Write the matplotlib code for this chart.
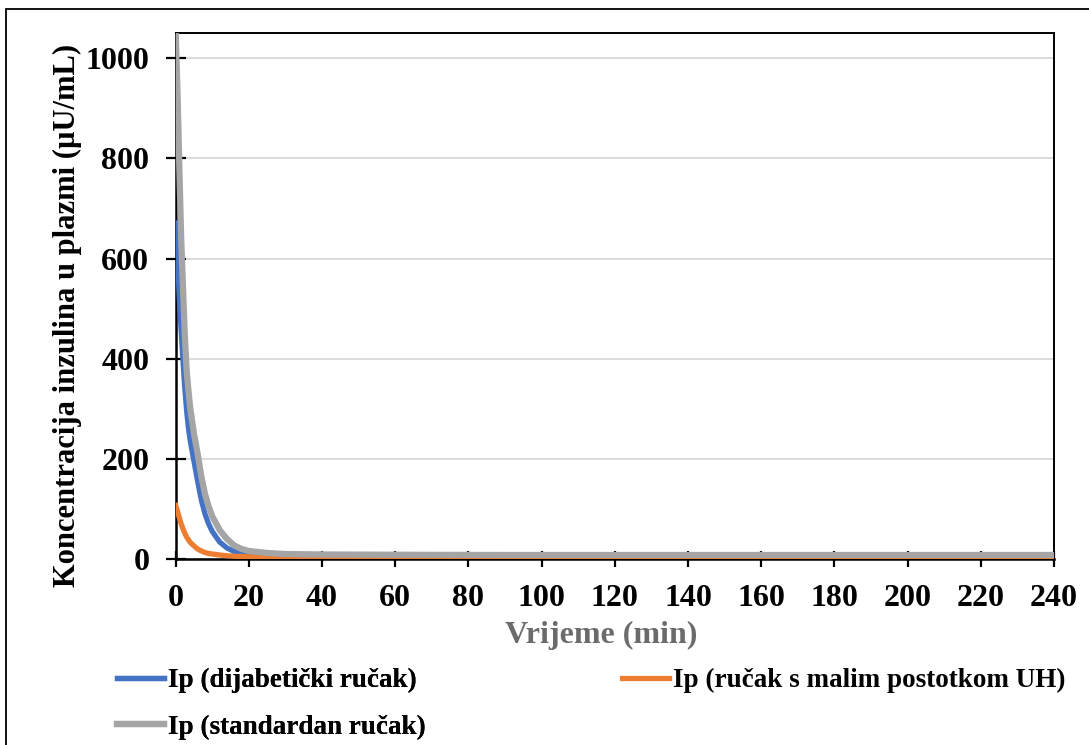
import matplotlib
matplotlib.use("Agg")
import matplotlib.pyplot as plt
from matplotlib.lines import Line2D
from matplotlib.patches import Rectangle

# ---- data ----
time_min = [0, 0.5, 1, 1.5, 2, 2.5, 3, 3.5, 4, 5, 6, 7, 8, 9, 10, 12, 14, 16,
            18, 20, 25, 30, 40, 60, 90, 120, 150, 180, 210, 240]
ip_dijabeticki = [671, 600, 520, 455, 395, 340, 295, 260, 235, 195, 155, 118, 90,
                  70, 55, 34, 22, 15, 12, 10.5, 9, 8.5, 8, 7.5, 7.5, 7.5, 7.5,
                  7.5, 7.5, 7.5]
ip_mali_uh = [107, 95, 82, 70, 60, 51, 44, 38, 33, 26, 20, 16, 13, 11, 10, 8,
              6.5, 5.5, 5, 4.5, 4, 3.5, 3, 3, 3, 3, 3, 3, 3, 3]
ip_standardan = [1050, 930, 780, 640, 540, 445, 375, 335, 300, 250, 210, 165, 130,
                 105, 85, 58, 40, 27, 20, 16, 12, 10, 9, 8.5, 8, 8, 8, 8, 8, 8]

series_labels = ["Ip (dijabetički ručak)", "Ip (ručak s malim postotkom UH)",
                 "Ip (standardan ručak)"]
x_ticks = list(range(0, 241, 20))
y_ticks = [0, 200, 400, 600, 800, 1000]

c_blue = "#4472C4"
c_orange = "#ED7D31"
c_gray = "#A5A5A5"

plt.rcParams["font.family"] = ["Liberation Serif", "DejaVu Serif"]
plt.rcParams["font.weight"] = "bold"

W, H = 1089, 745
fig = plt.figure(figsize=(W / 100, H / 100), dpi=100)
ax = fig.add_axes([175.7 / W, 1 - 559 / H, (1054 - 175.7) / W, (559 - 33.3) / H])

ax.plot(time_min, ip_dijabeticki, color=c_blue, lw=3.8, zorder=3)
ax.plot(time_min, ip_mali_uh, color=c_orange, lw=3.8, zorder=3)
ax.plot(time_min, ip_standardan, color=c_gray, lw=4.5, zorder=3)

ax.set_xlim(0, 240)
ax.set_ylim(0, 1050)
ax.set_xticks(x_ticks)
ax.set_yticks(y_ticks)
ax.set_xticklabels([str(v) for v in x_ticks], fontsize=23, fontweight="bold")
ax.set_yticklabels([str(v) for v in y_ticks], fontsize=23, fontweight="bold")
ax.tick_params(axis="y", direction="inout", length=14, width=1.6, pad=12)
ax.tick_params(axis="x", direction="inout", length=12, width=1.6, pad=12)

ax.grid(axis="y", color="#D9D9D9", lw=1.3, zorder=0)
ax.set_axisbelow(True)
for s in ["left", "bottom"]:
    ax.spines[s].set_linewidth(1.8)
    ax.spines[s].set_color("black")
for s in ["top", "right"]:
    ax.spines[s].set_linewidth(1.4)
    ax.spines[s].set_color("black")

fig.text(601 / W, 1 - 635 / H, "Vrijeme (min)", ha="center", va="center",
         fontsize=23, fontweight="bold", color="#6B6B6B")
fig.text(67 / W, 1 - 315 / H, "Koncentracija inzulina u plazmi (µU/mL)",
         ha="center", va="center", rotation=90, fontsize=22, fontweight="bold")

# legend
h_blue = Line2D([], [], color=c_blue, lw=3.8)
h_orange = Line2D([], [], color=c_orange, lw=3.8)
h_gray = Line2D([], [], color=c_gray, lw=4.5)
leg_kw = dict(loc="upper left", frameon=False, handlelength=1.75,
              handletextpad=0.12, borderpad=0, borderaxespad=0, labelspacing=0.8,
              prop={"weight": "bold", "size": 19.5})
leg1 = fig.legend([h_blue, h_gray], [series_labels[0], series_labels[2]],
                  bbox_to_anchor=(117 / W, 1 - 668 / H), **leg_kw)
fig.add_artist(leg1)
leg2 = fig.legend([h_orange], [series_labels[1]],
                  bbox_to_anchor=(622 / W, 1 - 668 / H), **leg_kw)

# outer frame
fig.patches.append(Rectangle((6 / W, -0.1), 1.2, 1.1 - 9 / H, transform=fig.transFigure,
                             fill=False, edgecolor="black", lw=1.3))

fig.savefig("out.png", dpi=100)
